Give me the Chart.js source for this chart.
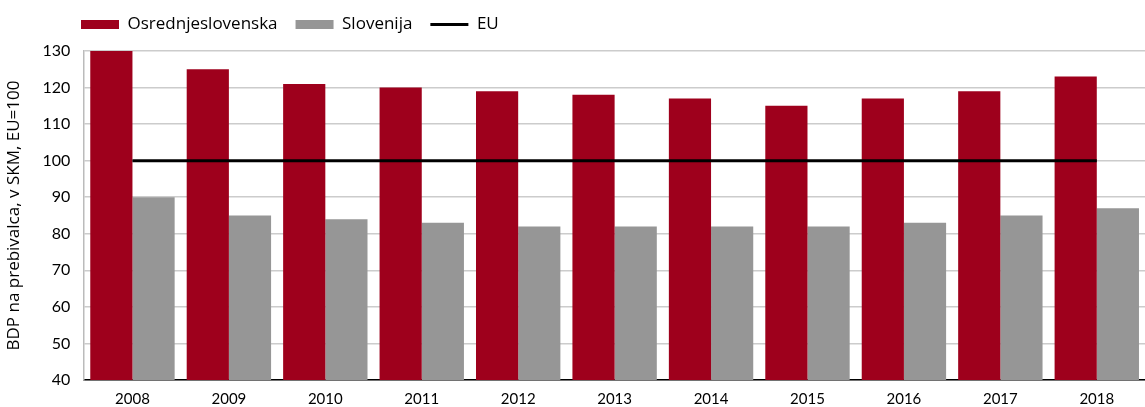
<!DOCTYPE html>
<html>
<head>
<meta charset="utf-8">
<script src="https://cdn.jsdelivr.net/npm/chart.js@4"></script>
<style>
  html, body { margin: 0; padding: 0; background: #fff; }
  #wrap { width: 1145px; height: 407px; }
</style>
</head>
<body>
<div id="wrap"><canvas id="bdp"></canvas></div>
<script>
const years = ["2008", "2009", "2010", "2011", "2012", "2013", "2014", "2015", "2016", "2017", "2018"];
const osrednjeslovenska = [130, 125, 121, 120, 119, 118, 117, 115, 117, 119, 123];
const slovenija = [90, 85, 84, 83, 82, 82, 82, 82, 83, 85, 87];
const eu = [100, 100, 100, 100, 100, 100, 100, 100, 100, 100, 100];

// move legend right and a little up (it sits over the plot, not at the canvas edge)
const legendShift = {
  id: "legendShift",
  afterLayout(chart) {
    chart.legend.left += 59;
    chart.legend.right += 59;
    chart.legend.top -= 8;
    chart.legend.bottom -= 8;
  }
};

new Chart(document.getElementById("bdp"), {
  type: "bar",
  data: {
    labels: years,
    datasets: [
      {
        label: "Osrednjeslovenska",
        data: osrednjeslovenska,
        backgroundColor: "#9e001c",
        pointStyle: "rect",
        order: 1
      },
      {
        label: "Slovenija",
        data: slovenija,
        backgroundColor: "#969696",
        pointStyle: "rect",
        order: 1
      },
      {
        type: "line",
        label: "EU",
        data: eu,
        borderColor: "#000",
        backgroundColor: "#000",
        borderWidth: 3,
        pointRadius: 0,
        pointStyle: "line",
        order: 0
      }
    ]
  },
  plugins: [legendShift],
  options: {
    responsive: true,
    maintainAspectRatio: false,
    animation: false,
    categoryPercentage: 0.875,
    barPercentage: 1,
    layout: { padding: { left: 4, right: 0, top: 6, bottom: 0 } },
    plugins: {
      tooltip: { enabled: false },
      legend: {
        position: "top",
        align: "start",
        labels: {
          usePointStyle: true,
          pointStyleWidth: 38,
          boxHeight: 9,
          padding: 18,
          color: "#000",
          font: { family: "Open Sans", size: 17 },
          sort: (a, b) => a.datasetIndex - b.datasetIndex
        }
      }
    },
    scales: {
      x: {
        grid: { display: false, drawTicks: false },
        border: { color: "#000", width: 1.5 },
        ticks: { color: "#000", padding: 10, font: { family: "Lato", size: 15 } },
        // labels may run to the canvas edge, so keep the axis band thin
        afterFit(scale) { scale.height = 27; }
      },
      y: {
        min: 40,
        max: 130,
        ticks: { stepSize: 10, color: "#000", padding: 14, font: { family: "Lato", size: 16 } },
        grid: { color: "#cccccc", lineWidth: 1.5, drawTicks: false },
        border: { color: "#bbbbbb", width: 1.5 },
        title: {
          display: true,
          text: "BDP na prebivalca, v SKM, EU=100",
          color: "#000",
          font: { family: "Open Sans", size: 17 },
          padding: { top: 0, bottom: 4 }
        }
      }
    }
  }
});
</script>
</body>
</html>
